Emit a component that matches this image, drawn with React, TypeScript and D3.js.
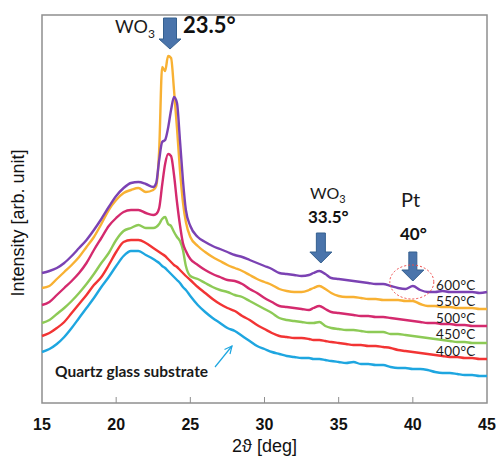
import React from "react";
import * as d3 from "d3";

// 2θ sampling grid (deg)
const theta = [
  15, 15.5, 16, 16.5, 17, 17.5, 18, 18.5, 19, 19.5, 20, 20.5, 21, 21.5, 22, 22.5,
  22.7, 22.9, 23.1, 23.3, 23.5, 23.7, 23.9, 24.1, 24.3, 24.5, 24.7, 25,
  25.5, 26, 26.5, 27, 27.5, 28, 28.5, 29, 29.5, 30, 30.5, 31, 31.5, 32, 32.5, 33,
  33.3, 33.7, 34.1, 34.5,
  35, 35.5, 36, 36.5, 37, 37.5, 38, 38.5, 39, 39.5, 40, 40.5, 41, 41.5, 42, 42.5, 43, 43.5, 44, 44.5, 45,
];

// intensities [arb. unit], offset stacked as in the figure
const i600 = [
  130, 132, 135, 140, 147, 155, 163, 173, 184, 196, 207, 215, 220, 221, 219, 216,
  220, 243, 261, 263, 275, 293, 306, 300, 263, 223, 193, 177,
  166, 161, 157, 154, 151, 148, 146, 143, 140, 137, 134, 130, 129, 128, 127, 128,
  130, 132, 129, 125,
  124, 123, 122, 121, 120, 119, 119, 117, 115, 114, 117, 113, 111, 111, 112, 111, 111, 111, 111, 110, 111,
];
const i550 = [
  115, 117, 124, 131, 138, 146, 156, 166, 179, 193, 203, 210, 213, 215, 211, 213,
  217, 253, 336, 332, 347, 345, 313, 275, 233, 201, 181, 166,
  157, 151, 146, 142, 138, 135, 132, 128, 124, 121, 118, 114, 112, 111, 111, 113,
  115, 117, 114, 110,
  107, 106, 106, 105, 104, 104, 103, 103, 103, 102, 102, 99, 97, 97, 96, 96, 95, 95, 95, 94, 94,
];
const i500 = [
  98, 101, 108, 115, 122, 130, 140, 153, 165, 177, 185, 191, 193, 193, 190, 188,
  189, 195, 218, 239, 249, 247, 228, 201, 178, 160, 152, 144,
  138, 133, 129, 126, 123, 122, 119, 114, 110, 105, 101, 97, 96, 95, 94, 93,
  95, 97, 94, 91,
  90, 89, 88, 87, 87, 86, 86, 85, 84, 83, 82, 81, 80, 80, 79, 79, 78, 78, 77, 77, 77,
];
const i450 = [
  80, 83, 89, 95, 102, 110, 119, 129, 140, 150, 163, 172, 175, 178, 175, 175,
  176, 179, 184, 186, 179, 177, 171, 166, 162, 153, 137, 127,
  124, 120, 116, 113, 111, 108, 106, 102, 98, 94, 90, 85, 83, 82, 81, 80,
  80, 81, 77, 75,
  74, 73, 73, 72, 71, 71, 71, 69, 69, 68, 67, 66, 65, 64, 63, 62, 61, 61, 60, 60, 60,
];
const i400 = [
  67, 70, 75, 81, 90, 99, 108, 118, 126, 138, 151, 161, 163, 163, 160, 155,
  153, 151, 149, 147, 144, 141, 138, 136, 133, 130, 127, 123,
  116, 110, 104, 99, 95, 92, 87, 83, 78, 74, 70, 67, 66, 65, 65, 64,
  63, 63, 62, 61,
  60, 59, 58, 58, 57, 57, 56, 55, 53, 52, 51, 50, 49, 48, 47, 46, 46, 45, 45, 44, 44,
];
const iSub = [
  51, 54, 59, 66, 75, 85, 95, 105, 116, 126, 137, 147, 152, 152, 148, 144,
  142, 140, 137, 135, 132, 129, 126, 123, 120, 116, 113, 107,
  98, 91, 85, 80, 75, 72, 67, 62, 57, 54, 51, 49, 47, 46, 45, 45,
  44, 44, 43, 42,
  41, 40, 41, 39, 39, 38, 38, 36, 35, 35, 34, 34, 33, 31, 30, 30, 29, 28, 28, 27, 27,
];

const seriesNames = ["Quartz glass substrate", "400℃", "450℃", "500℃", "550℃", "600℃"];
const seriesValues = [iSub, i400, i450, i500, i550, i600];
const seriesColors = ["#1ea6e0", "#f23434", "#8dca56", "#d42a6e", "#f8b133", "#7b42b3"];
const tempLabels = ["600°C", "550°C", "500°C", "450°C", "400°C"];
const xTicks = [15, 20, 25, 30, 35, 40, 45];

const W = 496;
const H = 461;
const L = 42, R = 487, T = 15, B = 403;

export default function App() {
  const x = d3.scaleLinear().domain([15, 45]).range([L, R]);
  const y = d3.scaleLinear().domain([0, 388]).range([B, T]);
  const line = d3
    .line<number>()
    .x((_, i) => x(theta[i]))
    .y((v) => y(v))
    .curve(d3.curveMonotoneX);

  const arrow = (cx: number, top: number, headStart: number, tip: number, shaftW: number, headW: number) => {
    const s = shaftW / 2, h = headW / 2;
    return `M${cx - s},${top}L${cx + s},${top}L${cx + s},${headStart}L${cx + h},${headStart}L${cx},${tip}L${cx - h},${headStart}L${cx - s},${headStart}Z`;
  };

  const ann = "Lato, 'Open Sans', sans-serif";
  const arial = "'Liberation Sans', Arial, sans-serif";
  const tempY = [289.5, 306, 322.5, 339, 355.5];

  return (
    <svg width={W} height={H} style={{ position: "absolute", left: 0, top: 0, background: "#fff" }}>
      {/* frame */}
      <rect x={L} y={T} width={R - L} height={B - T} fill="none" stroke="#8f8f8f" strokeWidth={1.5} />
      {/* ticks */}
      {xTicks.slice(1, -1).map((t) => (
        <line key={t} x1={x(t)} x2={x(t)} y1={B} y2={B - 6} stroke="#8f8f8f" strokeWidth={1} />
      ))}
      {xTicks.map((t) => (
        <text key={"l" + t} x={x(t)} y={430} textAnchor="middle" fontFamily={arial} fontWeight="bold" fontSize={16} fill="#111">
          {t}
        </text>
      ))}
      <text x={(L + R) / 2} y={452} textAnchor="middle" fontFamily={arial} fontSize={18} fill="#111">
        2ϑ [deg]
      </text>
      <text transform={`translate(24,223) rotate(-90)`} textAnchor="middle" fontFamily={arial} fontSize={18} fill="#111">
        Intensity [arb. unit]
      </text>

      {/* curves */}
      {seriesValues.map((vals, k) => (
        <path key={seriesNames[k]} d={line(vals) || ""} fill="none" stroke={seriesColors[k]} strokeWidth={2.4} strokeLinejoin="round" />
      ))}

      {/* temperature labels */}
      {tempLabels.map((t, k) => (
        <text key={t} x={436} y={tempY[k]} fontFamily={ann} fontSize={13.5} fill="#1a1a1a" letterSpacing={0.3}>
          {t}
        </text>
      ))}

      {/* substrate label + arrow */}
      <text x={55} y={377} fontFamily={ann} fontWeight="bold" fontSize={15.5} fill="#1a1a1a">
        Quartz glass substrate
      </text>
      <line x1={215} y1={367} x2={232} y2={346} stroke="#1ea6e0" strokeWidth={1.2} />
      <path d="M224.5,349.5L232,346L230,354" fill="none" stroke="#1ea6e0" strokeWidth={1.2} />

      {/* WO3 23.5 */}
      <text x={115} y={33} fontFamily={ann} fontSize={18} fill="#1a1a1a">
        WO<tspan fontSize={12} dy={5}>3</tspan>
      </text>
      <text x={183} y={33} fontFamily={ann} fontWeight="bold" fontSize={22} fill="#111">
        23.5°
      </text>
      <path d={arrow(x(23.63), 18, 39, 49, 13, 22)} fill="#4a74ab" stroke="#35608f" strokeWidth={1} />

      {/* WO3 33.5 */}
      <text x={310} y={199} fontFamily={ann} fontSize={16} fill="#1a1a1a">
        WO<tspan fontSize={11} dy={4}>3</tspan>
      </text>
      <text x={308} y={223} fontFamily={ann} fontWeight="bold" fontSize={17} fill="#111">
        33.5°
      </text>
      <path d={arrow(x(33.8), 233, 252, 263, 9, 22)} fill="#4a74ab" stroke="#35608f" strokeWidth={1} />

      {/* Pt 40 */}
      <text x={401} y={207} fontFamily={ann} fontSize={20} fill="#1a1a1a">
        Pt
      </text>
      <text x={400} y={240} fontFamily={ann} fontWeight="bold" fontSize={17} fill="#111">
        40°
      </text>
      <path d={arrow(x(40.0), 252, 270, 281, 8, 22)} fill="#4a74ab" stroke="#35608f" strokeWidth={1} />
      <ellipse cx={x(39.93)} cy={282} rx={22} ry={17} fill="none" stroke="#ee4b4b" strokeWidth={1} strokeDasharray="2,2" />
    </svg>
  );
}
